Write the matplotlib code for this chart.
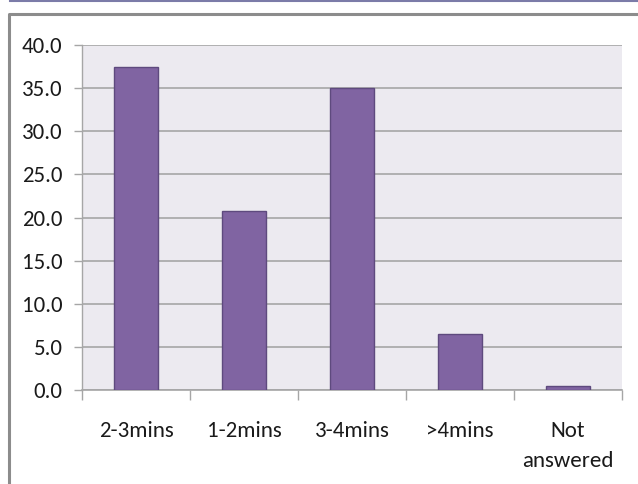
import matplotlib
matplotlib.use("Agg")
import matplotlib.pyplot as plt
from matplotlib import font_manager
from matplotlib.lines import Line2D

categories = ["2-3mins", "1-2mins", "3-4mins", ">4mins", "Not\nanswered"]
values = [37.5, 20.8, 35.0, 6.5, 0.5]
y_ticks = [0, 5, 10, 15, 20, 25, 30, 35, 40]

names = {f.name for f in font_manager.fontManager.ttflist}
family = "DejaVu Sans"
for cand in ["Carlito", "Liberation Sans Narrow", "Roboto Condensed", "Lato"]:
    if cand in names:
        family = cand
        break
plt.rcParams["font.family"] = family

W, H = 638, 484
fig = plt.figure(figsize=(W / 100, H / 100), dpi=100)
fig.patch.set_facecolor("white")

# outer frame lines
fig.add_artist(Line2D([10 / W, 1], [1 - 0.5 / H, 1 - 0.5 / H], color="#7B7BA8", lw=1.5))
fig.add_artist(Line2D([9 / W, 9 / W, 1], [0, 1 - 14 / H, 1 - 14 / H], color="#8C8C8C", lw=2.2))

ax = fig.add_axes([82 / W, 94 / H, 540 / W, 345 / H])
ax.set_facecolor("#ECEAF0")

x = list(range(len(categories)))
ax.bar(x, values, width=0.41, color="#8064A2", edgecolor="#5E4A7E", linewidth=1.0, zorder=3)

ax.set_xlim(-0.5, len(categories) - 0.5)
ax.set_ylim(0, 40)
ax.set_yticks(y_ticks)
ax.set_yticklabels([f"{v:.1f}" for v in y_ticks], fontsize=16.5, color="#1A1A1A")
ax.yaxis.grid(True, color="#A6A6A6", linewidth=1.2, zorder=1)
ax.set_axisbelow(True)

ax.set_xticks(x)
ax.set_xticklabels(categories, fontsize=16.5, color="#1A1A1A", linespacing=1.65, va="top")
ax.set_xticks([i - 0.5 for i in range(len(categories) + 1)], minor=True)
ax.tick_params(axis="x", which="major", length=0, pad=22)
ax.tick_params(axis="x", which="minor", length=7, color="#A6A6A6", width=1.0)
ax.tick_params(axis="y", length=6, color="#A6A6A6", width=1.0, pad=8)

for s in ["top", "right"]:
    ax.spines[s].set_visible(False)
ax.spines["left"].set_color("#A6A6A6")
ax.spines["bottom"].set_color("#A6A6A6")
ax.spines["left"].set_linewidth(1.0)
ax.spines["bottom"].set_linewidth(1.2)

fig.savefig("out.png", dpi=100)
